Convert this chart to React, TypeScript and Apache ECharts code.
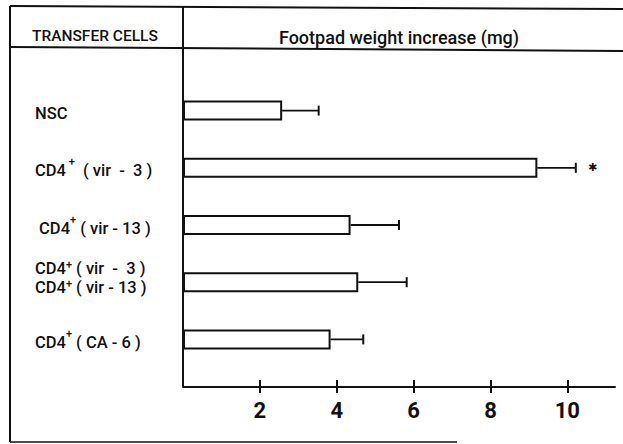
import React, { useEffect, useRef } from "react";
import * as echarts from "echarts";

const categories = ["NSC", "CD4 vir-3", "CD4 vir-13", "CD4 vir-3 + vir-13", "CD4 CA-6"];
const means = [2.58, 9.22, 4.36, 4.56, 3.84];
const errors = [0.95, 1.0, 1.26, 1.26, 0.85];
const tickValues = [2, 4, 6, 8, 10];
const significance = [{ category: 1, value: 10.66, mark: "✱" }];

const labelText: Record<string, string> = {
  "NSC": "{a|NSC}",
  "CD4 vir-3": "{a|CD4}{s| +}{a|  ( vir  -  3 )}",
  "CD4 vir-13": "{a| CD4}{s|+}{a| ( vir - 13 )}",
  "CD4 vir-3 + vir-13": "{b|CD4}{s|+}{b| ( vir  -  3 )}\n{c|CD4}{t|+}{c| ( vir - 13 )}",
  "CD4 CA-6": "{a|CD4}{s|+}{a| ( CA - 6 )}",
};

const FONT = "Roboto, 'Liberation Sans', sans-serif";

export default function App() {
  const ref = useRef<HTMLDivElement>(null);
  useEffect(() => {
    if (!ref.current) return;
    const chart = echarts.init(ref.current, null, { renderer: "svg" });
    const X0 = 183;
    chart.setOption({
      animation: false,
      backgroundColor: "#fff",
      grid: { left: X0, right: 8, top: 82, bottom: 76, containLabel: false },
      xAxis: [
        {
          type: "value",
          min: 0,
          max: 11.24,
          offset: 18.5,
          splitLine: { show: false },
          axisLine: { show: true, lineStyle: { color: "#111", width: 2 } },
          axisTick: { show: true, customValues: tickValues, length: 6.5, lineStyle: { color: "#111", width: 2 } },
          axisLabel: {
            customValues: tickValues,
            margin: 13,
            color: "#111",
            fontFamily: FONT,
            fontWeight: "bold",
            fontSize: 22,
          },
        },
        {
          type: "value",
          min: 0,
          max: 11.24,
          offset: 18.5,
          position: "bottom",
          splitLine: { show: false },
          axisLine: { show: false },
          axisTick: { show: true, inside: true, customValues: tickValues, length: 6.5, lineStyle: { color: "#111", width: 2 } },
          axisLabel: { show: false },
        },
      ],
      yAxis: {
        type: "category",
        inverse: true,
        data: categories,
        axisLine: { show: false },
        axisTick: { show: false },
        axisLabel: {
          margin: 148,
          align: "left",
          formatter: (v: string) => labelText[v] ?? v,
          rich: {
            a: { fontFamily: FONT, fontWeight: 500, fontSize: 16.5, color: "#111", padding: [6, 0, 0, 0] },
            b: { fontFamily: FONT, fontWeight: 500, fontSize: 16.5, color: "#111", lineHeight: 16 },
            c: { fontFamily: FONT, fontWeight: 500, fontSize: 16.5, color: "#111", lineHeight: 16, padding: [0, 0, 8, 0] },
            s: { fontFamily: FONT, fontWeight: 500, fontSize: 11, color: "#111", verticalAlign: "top", padding: [0, 0, 8, 0] },
            t: { fontFamily: FONT, fontWeight: 500, fontSize: 11, color: "#111", verticalAlign: "top", padding: [0, 0, 16, 0] },
          },
        },
      },
      series: [
        {
          type: "bar",
          data: means,
          barWidth: 20,
          itemStyle: { color: "#fff", borderColor: "#111", borderWidth: 2 },
          xAxisIndex: 0,
        },
        {
          type: "custom",
          xAxisIndex: 0,
          data: means.map((m, i) => [m, i, errors[i]]),
          encode: { x: 0, y: 1 },
          renderItem: (params: any, api: any) => {
            const m = api.value(0);
            const c = api.value(1);
            const e = api.value(2);
            const p0 = api.coord([m, c]);
            const p1 = api.coord([m + e, c]);
            const style = { stroke: "#111", lineWidth: 1.8 };
            return {
              type: "group",
              children: [
                { type: "line", shape: { x1: p0[0], y1: p0[1], x2: p1[0], y2: p1[1] }, style },
                { type: "line", shape: { x1: p1[0], y1: p1[1] - 5, x2: p1[0], y2: p1[1] + 5 }, style: { stroke: "#111", lineWidth: 2 } },
              ],
            };
          },
        },
        {
          type: "custom",
          xAxisIndex: 0,
          data: significance.map((s) => [s.value, s.category]),
          encode: { x: 0, y: 1 },
          renderItem: (params: any, api: any) => {
            const p = api.coord([api.value(0), api.value(1)]);
            return {
              type: "text",
              x: p[0],
              y: p[1],
              style: {
                text: significance[params.dataIndex].mark,
                fontFamily: "'DejaVu Sans', sans-serif",
                fontSize: 11,
                fill: "#111",
                align: "center",
                verticalAlign: "middle",
              },
            };
          },
        },
      ],
      graphic: [
        { type: "line", shape: { x1: 10, y1: 6, x2: 623, y2: 9 }, style: { stroke: "#111", lineWidth: 2 } },
        { type: "line", shape: { x1: 10, y1: 47, x2: 623, y2: 51 }, style: { stroke: "#111", lineWidth: 2 } },
        { type: "line", shape: { x1: 10, y1: 6, x2: 10, y2: 442 }, style: { stroke: "#111", lineWidth: 2 } },
        { type: "line", shape: { x1: 10, y1: 442, x2: 457, y2: 442 }, style: { stroke: "#111", lineWidth: 1.6 } },
        { type: "line", shape: { x1: X0, y1: 7, x2: X0, y2: 386.5 }, style: { stroke: "#111", lineWidth: 2 } },
        {
          type: "text",
          x: 32,
          y: 36,
          style: { text: "TRANSFER CELLS", fontFamily: FONT, fontWeight: 500, fontSize: 15.5, fill: "#111", verticalAlign: "middle" },
        },
        {
          type: "text",
          x: 399,
          y: 37,
          style: {
            text: "Footpad weight increase (mg)",
            fontFamily: FONT,
            fontWeight: 500,
            fontSize: 18,
            fill: "#111",
            align: "center",
            verticalAlign: "middle",
          },
        },
      ],
    });
    return () => chart.dispose();
  }, []);
  return <div ref={ref} style={{ width: 623, height: 444, position: "absolute", left: 0, top: 0 }} />;
}
